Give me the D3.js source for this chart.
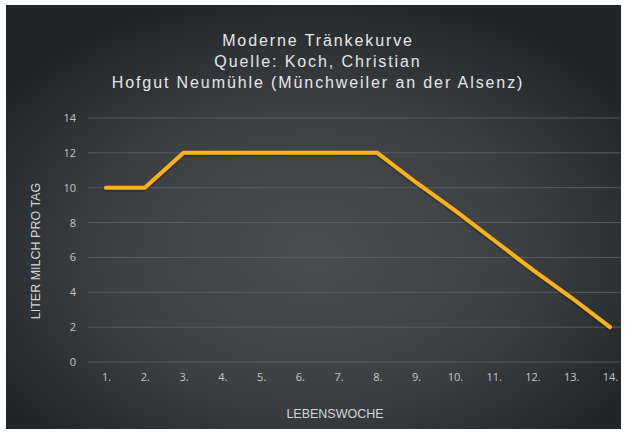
<!DOCTYPE html>
<html>
<head>
<meta charset="utf-8">
<script src="https://cdn.jsdelivr.net/npm/d3@7"></script>
<style>
  body { margin: 0; background: #fff; }
  svg { display: block; }
</style>
</head>
<body>
<div id="chart"></div>
<script>
// data
const weeks = ["1.", "2.", "3.", "4.", "5.", "6.", "7.", "8.", "9.", "10.", "11.", "12.", "13.", "14."];
const liters = [10, 10, 12, 12, 12, 12, 12, 12, 10.3, 8.7, 7, 5.3, 3.7, 2];
const yTicks = [0, 2, 4, 6, 8, 10, 12, 14];
const titleLines = ["Moderne Tränkekurve", "Quelle: Koch, Christian", "Hofgut Neumühle (Münchweiler an der Alsenz)"];

const width = 627, height = 435;
const margin = {top: 118, right: 17, bottom: 73, left: 106};

const svg = d3.select('#chart').append('svg')
    .attr('width', width)
    .attr('height', height);

const defs = svg.append('defs');
const grad = defs.append('radialGradient')
    .attr('id', 'bg')
    .attr('cx', '50%').attr('cy', '58%').attr('r', '62%');
grad.append('stop').attr('offset', '0%').attr('stop-color', '#4b4d50');
grad.append('stop').attr('offset', '55%').attr('stop-color', '#3d4043');
grad.append('stop').attr('offset', '100%').attr('stop-color', '#212528');

const shadow = defs.append('filter').attr('id', 'shadow')
    .attr('x', '-5%').attr('y', '-5%').attr('width', '110%').attr('height', '120%');
shadow.append('feDropShadow')
    .attr('dx', 0).attr('dy', 1).attr('stdDeviation', 1)
    .attr('flood-color', '#000').attr('flood-opacity', 0.5);

svg.append('rect')
    .attr('x', 6).attr('y', 5)
    .attr('width', 615).attr('height', 424)
    .attr('fill', 'url(#bg)');

// title
svg.append('g').selectAll('text')
    .data(titleLines)
    .join('text')
    .attr('x', 318)
    .attr('y', (d, i) => 46 + i * 21)
    .attr('text-anchor', 'middle')
    .attr('font-family', 'Liberation Sans, Arial, sans-serif')
    .attr('font-size', 16)
    .attr('letter-spacing', 1.9)
    .attr('fill', '#e6e6e6')
    .text(d => d);

const plotH = height - margin.top - margin.bottom;

const xScale = d3.scalePoint()
    .domain(weeks)
    .range([margin.left, width - margin.right]);

const yScale = d3.scaleLinear()
    .domain([0, 14])
    .range([margin.top + plotH, margin.top]);

// gridlines
svg.append('g').selectAll('line')
    .data(yTicks)
    .join('line')
    .attr('x1', 88).attr('x2', 621)
    .attr('y1', d => yScale(d)).attr('y2', d => yScale(d))
    .attr('stroke', '#5a5d60')
    .attr('stroke-width', 1);

// y axis labels
const yAxis = svg.append('g')
    .attr('transform', `translate(88,0)`)
    .call(d3.axisLeft(yScale).tickValues(yTicks).tickSize(0).tickPadding(12));
yAxis.select('.domain').remove();
yAxis.selectAll('text')
    .attr('font-family', 'Open Sans, sans-serif')
    .attr('font-size', 11)
    .attr('fill', '#c4c4c4');

// x axis labels
const xAxis = svg.append('g')
    .attr('transform', `translate(0,${yScale(0)})`)
    .call(d3.axisBottom(xScale).tickSize(0).tickPadding(11));
xAxis.select('.domain').remove();
xAxis.selectAll('text')
    .attr('font-family', 'Open Sans, sans-serif')
    .attr('font-size', 11)
    .attr('fill', '#c4c4c4');

// axis titles
svg.append('text')
    .attr('x', 335).attr('y', 418)
    .attr('text-anchor', 'middle')
    .attr('font-family', 'Liberation Sans, Arial, sans-serif')
    .attr('font-size', 12.5)
    .attr('fill', '#d4d4d4')
    .text('LEBENSWOCHE');

svg.append('text')
    .attr('transform', 'translate(40,251) rotate(-90)')
    .attr('text-anchor', 'middle')
    .attr('font-family', 'Liberation Sans, Arial, sans-serif')
    .attr('font-size', 12.5)
    .attr('fill', '#d4d4d4')
    .text('LITER MILCH PRO TAG');

// the curve
const line = d3.line()
    .x((d, i) => xScale(weeks[i]))
    .y(d => yScale(d));

svg.append('path')
    .datum(liters)
    .attr('d', line)
    .attr('fill', 'none')
    .attr('stroke', '#f7b21e')
    .attr('stroke-width', 4)
    .attr('stroke-linejoin', 'round')
    .attr('stroke-linecap', 'round')
    .attr('filter', 'url(#shadow)');
</script>
</body>
</html>
